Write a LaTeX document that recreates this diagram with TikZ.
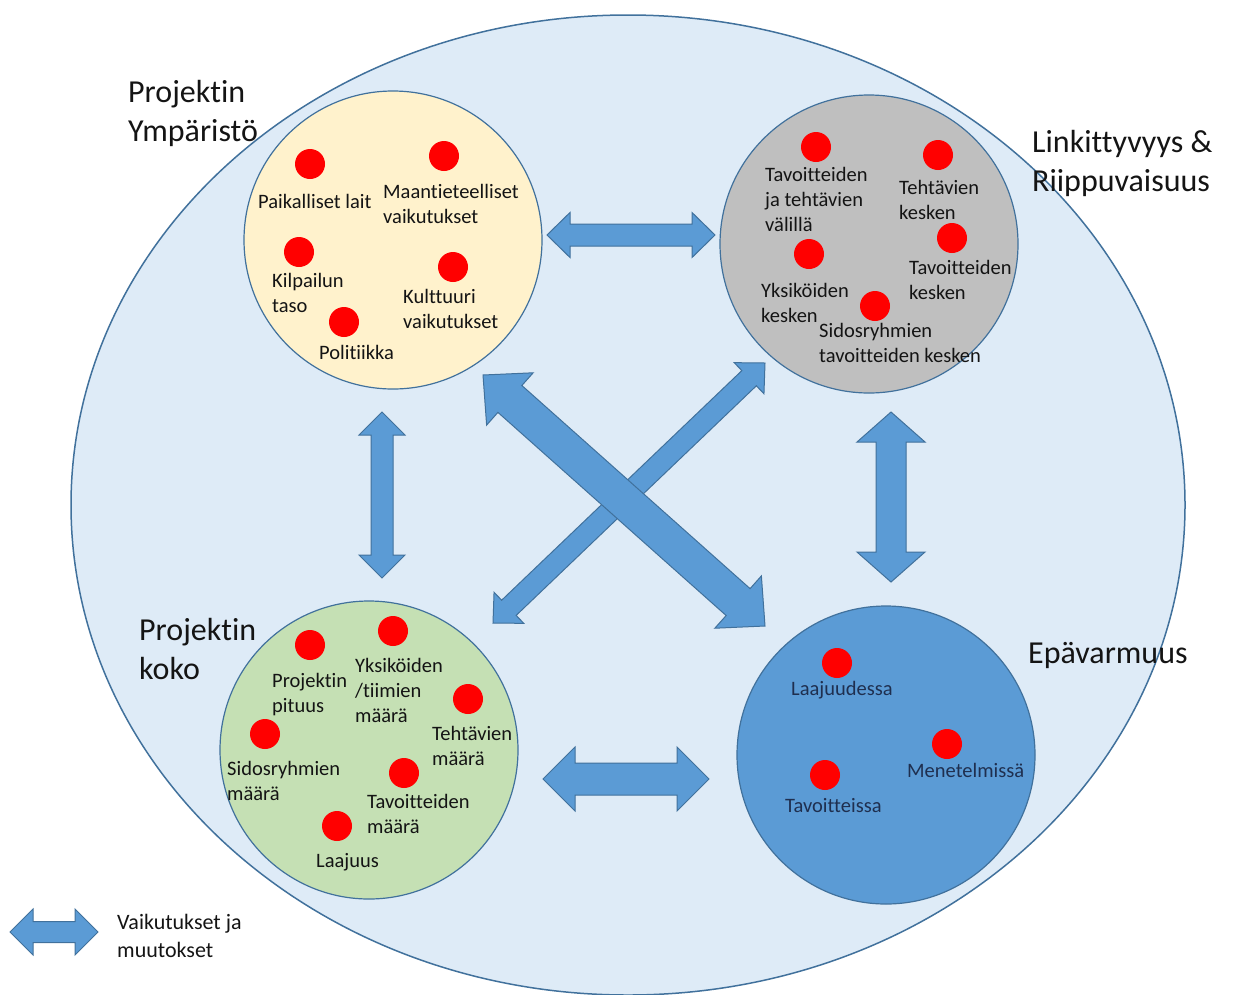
\documentclass[tikz,border=0pt]{standalone}
\usepackage{fontspec}
\setmainfont{Carlito}[Ligatures={NoCommon}]
\usetikzlibrary{calc}
\definecolor{tausta}{HTML}{DEEBF7}
\definecolor{reuna}{HTML}{41719C}
\definecolor{nuoli}{HTML}{5B9BD5}
\definecolor{keltainen}{HTML}{FFF2CC}
\definecolor{harmaa}{HTML}{BFBFBF}
\definecolor{vihrea}{HTML}{C5E0B4}
\definecolor{tumma}{HTML}{1F2F4F}
\definecolor{musta}{HTML}{141414}
\tikzset{
  alue/.style={circle, draw=reuna, line width=1.2pt, minimum size=298pt, inner sep=0pt},
  piste/.style={circle, fill=red, minimum size=30pt, inner sep=0pt},
  teksti/.style={anchor=base west, align=left, inner sep=0pt, text=musta, font=\fontsize{20.5}{25}\selectfont},
  otsikko/.style={anchor=base west, align=left, inner sep=0pt, text=musta, font=\fontsize{32}{39}\selectfont},
  vuo/.style={fill=nuoli, draw=reuna, line width=1pt, line join=miter}
}
\newcommand{\vuonuoli}[5]{%
  \filldraw[vuo] (#1)
    -- ($(#1)!#3!(#2)!#5!90:(#2)$) -- ($(#1)!#3!(#2)!#4!90:(#2)$)
    -- ($(#2)!#3!(#1)!#4!-90:(#1)$) -- ($(#2)!#3!(#1)!#5!-90:(#1)$)
    -- (#2)
    -- ($(#2)!#3!(#1)!#5!90:(#1)$) -- ($(#2)!#3!(#1)!#4!90:(#1)$)
    -- ($(#1)!#3!(#2)!#4!-90:(#2)$) -- ($(#1)!#3!(#2)!#5!-90:(#2)$)
    -- cycle;}
\begin{document}
\begin{tikzpicture}[x=1pt,y=-1pt]
    \useasboundingbox (0,0) rectangle (1233,994);
    \filldraw[fill=tausta, draw=reuna, line width=1.5pt] (628,505) ellipse [x radius=557, y radius=490];

    \node[alue, fill=keltainen] (ymp) at (393,240) {};
    \node[alue, fill=harmaa] (link) at (869,244) {};
    \node[alue, fill=vihrea] (koko) at (369,750) {};
    \node[alue, fill=nuoli] (epa) at (886,755) {};

    \node[otsikko] (ymp-o) at (128,141) {Projektin\\Ympäristö};
    \node[otsikko] (link-o) at (1032,191) {Linkittyvyys \&\\Riippuvaisuus};
    \node[otsikko] (koko-o) at (139,679) {Projektin\\koko};
    \node[otsikko] (epa-o) at (1028,663) {Epävarmuus};

    \node[piste] (ymp1) at (310,164) {};
    \node[piste] (ymp2) at (444,156) {};
    \node[piste] (ymp3) at (299,252) {};
    \node[piste] (ymp4) at (453,267) {};
    \node[piste] (ymp5) at (344,322) {};
    \node[teksti] (ymp1-t) at (258,208) {Paikalliset lait};
    \node[teksti] (ymp2-t) at (383,223) {Maantieteelliset\\vaikutukset};
    \node[teksti] (ymp3-t) at (272,312) {Kilpailun\\taso};
    \node[teksti] (ymp4-t) at (403,328) {Kulttuuri\\vaikutukset};
    \node[teksti] (ymp5-t) at (319,359) {Politiikka};

    \node[piste] (link1) at (816,147) {};
    \node[piste] (link2) at (938,155) {};
    \node[piste] (link3) at (952,238) {};
    \node[piste] (link4) at (809,254) {};
    \node[piste] (link5) at (875,306) {};
    \node[teksti] (link1-t) at (765,231) {Tavoitteiden\\ja tehtävien\\välillä};
    \node[teksti] (link2-t) at (899,219) {Tehtävien\\kesken};
    \node[teksti] (link3-t) at (909,299) {Tavoitteiden\\kesken};
    \node[teksti] (link4-t) at (761,322) {Yksiköiden\\kesken};
    \node[teksti] (link5-t) at (819,362) {Sidosryhmien\\tavoitteiden kesken};

    \node[piste] (koko1) at (310,645) {};
    \node[piste] (koko2) at (393,631) {};
    \node[piste] (koko3) at (468,699) {};
    \node[piste] (koko4) at (265,734) {};
    \node[piste] (koko5) at (404,773) {};
    \node[piste] (koko6) at (337,826) {};
    \node[teksti] (koko1-t) at (272,712) {Projektin\\pituus};
    \node[teksti] (koko2-t) at (355,722) {Yksiköiden\\/tiimien\\määrä};
    \node[teksti] (koko3-t) at (432,765) {Tehtävien\\määrä};
    \node[teksti] (koko4-t) at (227,800) {Sidosryhmien\\määrä};
    \node[teksti] (koko5-t) at (367,833) {Tavoitteiden\\määrä};
    \node[teksti] (koko6-t) at (316,867) {Laajuus};

    \node[piste] (epa1) at (837,663) {};
    \node[piste] (epa2) at (947,744) {};
    \node[piste] (epa3) at (825,775) {};
    \node[teksti, text=tumma] (epa1-t) at (791,695) {Laajuudessa};
    \node[teksti, text=tumma] (epa2-t) at (907,777) {Menetelmissä};
    \node[teksti, text=tumma] (epa3-t) at (785,812) {Tavoitteissa};

    \coordinate (ymp-link-a) at (547,235);
    \coordinate (ymp-link-b) at (715,235);
    \coordinate (koko-epa-a) at (543,779);
    \coordinate (koko-epa-b) at (709,779);
    \coordinate (ymp-koko-a) at (382,412);
    \coordinate (ymp-koko-b) at (382,578);
    \coordinate (link-epa-a) at (891,412);
    \coordinate (link-epa-b) at (891,582);
    \coordinate (ymp-epa-a) at (483,375);
    \coordinate (ymp-epa-b) at (765,626);
    \coordinate (link-koko-a) at (765,363);
    \coordinate (link-koko-b) at (493,623);
    \coordinate (selite-a) at (10,932);
    \coordinate (selite-b) at (98,932);

    \vuonuoli{ymp-link-a}{ymp-link-b}{23pt}{11pt}{22.5pt}
    \vuonuoli{koko-epa-a}{koko-epa-b}{32pt}{16pt}{32pt}
    \vuonuoli{ymp-koko-a}{ymp-koko-b}{23pt}{11pt}{23pt}
    \vuonuoli{link-epa-a}{link-epa-b}{30pt}{15pt}{34pt}
    \vuonuoli{link-koko-a}{link-koko-b}{22pt}{10.5pt}{21.5pt}
    \vuonuoli{ymp-epa-a}{ymp-epa-b}{36pt}{18pt}{35pt}
    \vuonuoli{selite-a}{selite-b}{23pt}{10.5pt}{23pt}

    \node[teksti, font=\fontsize{22}{28}\selectfont] (selite) at (117,957) {Vaikutukset ja\\muutokset};
\end{tikzpicture}
\end{document}
